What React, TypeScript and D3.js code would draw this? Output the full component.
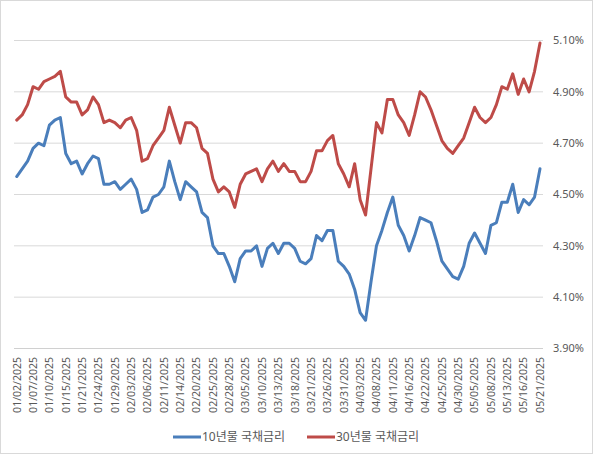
import * as d3 from "d3";

// trading days, 2025
const dates = [
  "01/02/2025", "01/03/2025", "01/06/2025", "01/07/2025", "01/08/2025", "01/09/2025", "01/10/2025",
  "01/13/2025", "01/14/2025", "01/15/2025", "01/16/2025", "01/17/2025", "01/21/2025", "01/22/2025",
  "01/23/2025", "01/24/2025", "01/27/2025", "01/28/2025", "01/29/2025", "01/30/2025", "01/31/2025",
  "02/03/2025", "02/04/2025", "02/05/2025", "02/06/2025", "02/07/2025", "02/10/2025", "02/11/2025",
  "02/12/2025", "02/13/2025", "02/14/2025", "02/18/2025", "02/19/2025", "02/20/2025", "02/21/2025",
  "02/24/2025", "02/25/2025", "02/26/2025", "02/27/2025", "02/28/2025",
  "03/03/2025", "03/04/2025", "03/05/2025", "03/06/2025", "03/07/2025", "03/10/2025", "03/11/2025",
  "03/12/2025", "03/13/2025", "03/14/2025", "03/17/2025", "03/18/2025", "03/19/2025", "03/20/2025",
  "03/21/2025", "03/24/2025", "03/25/2025", "03/26/2025", "03/27/2025", "03/28/2025", "03/31/2025",
  "04/01/2025", "04/02/2025", "04/03/2025", "04/04/2025", "04/07/2025", "04/08/2025", "04/09/2025",
  "04/10/2025", "04/11/2025", "04/14/2025", "04/15/2025", "04/16/2025", "04/17/2025", "04/21/2025",
  "04/22/2025", "04/23/2025", "04/24/2025", "04/25/2025", "04/28/2025", "04/29/2025", "04/30/2025",
  "05/01/2025", "05/02/2025", "05/05/2025", "05/06/2025", "05/07/2025", "05/08/2025", "05/09/2025",
  "05/12/2025", "05/13/2025", "05/14/2025", "05/15/2025", "05/16/2025", "05/19/2025", "05/20/2025",
  "05/21/2025",
];

const yield10 = [
  4.57, 4.60, 4.63, 4.68, 4.70, 4.69, 4.77, 4.79, 4.80, 4.66, 4.62, 4.63, 4.58, 4.62, 4.65, 4.64,
  4.54, 4.54, 4.55, 4.52, 4.54, 4.56, 4.52, 4.43, 4.44, 4.49, 4.50, 4.53, 4.63, 4.55, 4.48, 4.55,
  4.53, 4.51, 4.43, 4.41, 4.30, 4.27, 4.27, 4.22, 4.16, 4.25, 4.28, 4.28, 4.30, 4.22, 4.29, 4.31,
  4.27, 4.31, 4.31, 4.29, 4.24, 4.23, 4.25, 4.34, 4.32, 4.36, 4.36, 4.24, 4.22, 4.19, 4.13, 4.04,
  4.01, 4.16, 4.30, 4.36, 4.43, 4.49, 4.38, 4.34, 4.28, 4.34, 4.41, 4.40, 4.39, 4.32, 4.24, 4.21,
  4.18, 4.17, 4.22, 4.31, 4.35, 4.31, 4.27, 4.38, 4.39, 4.47, 4.47, 4.54, 4.43, 4.48, 4.46, 4.49,
  4.60,
];

const yield30 = [
  4.79, 4.81, 4.85, 4.92, 4.91, 4.94, 4.95, 4.96, 4.98, 4.88, 4.86, 4.86, 4.81, 4.83, 4.88, 4.85,
  4.78, 4.79, 4.78, 4.76, 4.79, 4.80, 4.75, 4.63, 4.64, 4.69, 4.72, 4.75, 4.84, 4.77, 4.70, 4.78,
  4.78, 4.76, 4.68, 4.66, 4.56, 4.51, 4.53, 4.51, 4.45, 4.54, 4.58, 4.59, 4.60, 4.55, 4.60, 4.63,
  4.59, 4.62, 4.59, 4.59, 4.55, 4.55, 4.59, 4.67, 4.67, 4.71, 4.73, 4.62, 4.58, 4.53, 4.62, 4.48,
  4.42, 4.60, 4.78, 4.74, 4.87, 4.87, 4.81, 4.78, 4.73, 4.81, 4.90, 4.88, 4.83, 4.77, 4.71, 4.68,
  4.66, 4.69, 4.72, 4.78, 4.84, 4.80, 4.78, 4.80, 4.85, 4.92, 4.91, 4.97, 4.89, 4.95, 4.90, 4.98,
  5.09,
];

const yTicks = [3.9, 4.1, 4.3, 4.5, 4.7, 4.9, 5.1];
const seriesNames = ["10년물 국채금리", "30년물 국채금리"];
const seriesColors = ["#4a7ebb", "#be4b48"];

const W = 593;
const H = 454;
const FONT = "'Noto Sans', 'Noto Sans CJK KR', sans-serif";

export default function App() {
  const x = d3.scalePoint<string>().domain(dates).range([16.7, 540]);
  const y = d3.scaleLinear().domain([3.9, 5.1]).range([348.5, 40.5]);

  const line = d3
    .line<number>()
    .x((_, i) => x(dates[i]) as number)
    .y((d) => y(d));

  const tickDates = dates.filter((_, i) => i % 3 === 0);

  return (
    <div style={{ position: "absolute", left: 0, top: 0 }}>
      <svg width={W} height={H} style={{ display: "block", fontFamily: FONT }}>
        <rect x={0.5} y={0.5} width={W - 1} height={H - 1} fill="#fff" stroke="#d9d9d9" />

        {/* gridlines + right axis labels */}
        {yTicks.map((t) => (
          <g key={t}>
            <line x1={14} x2={543} y1={y(t)} y2={y(t)} stroke={t === 3.9 ? "#d0d0d0" : "#d9d9d9"} strokeWidth={1} />
            <text x={553} y={y(t)} dy="0.35em" fontSize={11} fill="#595959">
              {t.toFixed(2)}%
            </text>
          </g>
        ))}

        {/* x labels, rotated */}
        {tickDates.map((d) => (
          <text
            key={d}
            transform={`translate(${(x(d) as number) + 3.8}, 357) rotate(-90)`}
            textAnchor="end"
            fontSize={10.5}
            fill="#595959"
          >
            {d}
          </text>
        ))}

        {/* series */}
        {[yield30, yield10].map((s, k) => (
          <path
            key={k}
            d={line(s) || ""}
            fill="none"
            stroke={k === 0 ? seriesColors[1] : seriesColors[0]}
            strokeWidth={3}
            strokeLinejoin="round"
            strokeLinecap="round"
          />
        ))}

        {/* legend */}
        {seriesNames.map((name, i) => {
          const lx = i === 0 ? 173 : 307;
          return (
            <g key={name}>
              <line x1={lx} x2={lx + 28} y1={437} y2={437} stroke={seriesColors[i]} strokeWidth={3} />
              <text x={lx + 29} y={437} dy="0.35em" fontSize={12} fill="#595959">
                {name}
              </text>
            </g>
          );
        })}
      </svg>
    </div>
  );
}
